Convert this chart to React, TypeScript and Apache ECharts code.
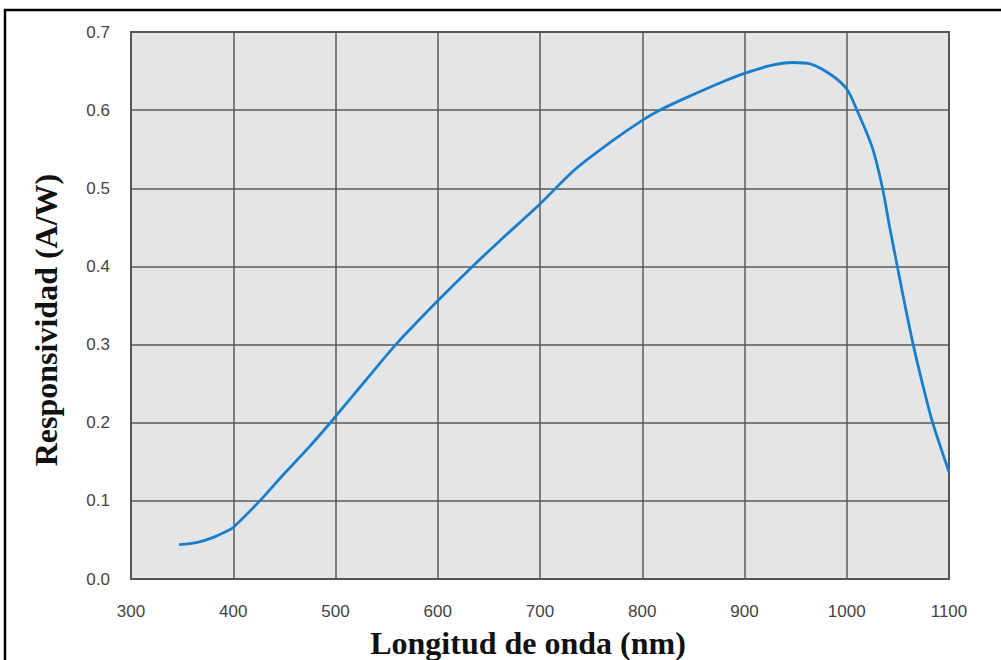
import React, { useEffect, useRef } from "react";
import * as echarts from "echarts";

const wavelengths = [347, 365, 380, 395, 400, 426, 450, 475, 495, 500, 530, 559, 600, 634, 660, 700, 735, 770, 800, 817, 850, 880, 900, 925, 947, 965, 985, 1000, 1010, 1025, 1035, 1042, 1049.5, 1057, 1065, 1075, 1084, 1100];
const responsivity = [0.044, 0.047, 0.053, 0.062, 0.066, 0.1, 0.135, 0.17, 0.2, 0.208, 0.255, 0.3, 0.356, 0.4, 0.432, 0.48, 0.525, 0.56, 0.587, 0.6, 0.62, 0.637, 0.647, 0.657, 0.661, 0.659, 0.645, 0.627, 0.6, 0.552, 0.5, 0.45, 0.4, 0.35, 0.3, 0.245, 0.2, 0.137];

const xTitle = "Longitud de onda (nm)";
const yTitle = "Responsividad (A/W)";

export default function App() {
  const ref = useRef<HTMLDivElement>(null);
  useEffect(() => {
    if (!ref.current) return;
    const chart = echarts.init(ref.current, null, { renderer: "svg" });
    const labelFont = { fontFamily: "Liberation Sans, Arial, sans-serif", fontSize: 17, color: "#444" };
    chart.setOption({
      animation: false,
      backgroundColor: "#fff",
      grid: {
        left: 131,
        right: 52,
        top: 32,
        bottom: 81,
        show: true,
        backgroundColor: "#e4e5e7",
        borderColor: "#4a4a4a",
        borderWidth: 2,
      },
      xAxis: {
        type: "value",
        min: 300,
        max: 1100,
        interval: 100,
        axisLine: { show: false },
        axisTick: { show: false },
        axisLabel: { ...labelFont, margin: 24, formatter: (v: number) => String(v) },
        splitLine: { show: true, lineStyle: { color: "#5a5a5a", width: 1.5 } },
      },
      yAxis: {
        type: "value",
        min: 0,
        max: 0.7,
        interval: 0.1,
        axisLine: { show: false },
        axisTick: { show: false },
        axisLabel: { ...labelFont, margin: 21, formatter: (v: number) => v.toFixed(1) },
        splitLine: { show: true, lineStyle: { color: "#5a5a5a", width: 1.5 } },
      },
      series: [
        {
          type: "line",
          data: wavelengths.map((w, i) => [w, responsivity[i]]),
          smooth: 0.3,
          showSymbol: false,
          lineStyle: { color: "#1a7fca", width: 2.8 },
          z: 5,
        },
      ],
      graphic: [
        {
          type: "rect",
          shape: { x: 5, y: 10, width: 1020, height: 680 },
          style: { fill: "none", stroke: "#000", lineWidth: 2.5 },
          silent: true,
        },
        {
          type: "text",
          x: 528,
          y: 643,
          style: {
            text: xTitle,
            font: "bold 32px 'Liberation Serif', 'Times New Roman', serif",
            fill: "#111",
            textAlign: "center",
            textVerticalAlign: "middle",
          },
        },
        {
          type: "text",
          x: 46,
          y: 320,
          rotation: Math.PI / 2,
          style: {
            text: yTitle,
            font: "bold 32px 'Liberation Serif', 'Times New Roman', serif",
            fill: "#111",
            textAlign: "center",
            textVerticalAlign: "middle",
          },
        },
      ],
    });
    return () => chart.dispose();
  }, []);
  return <div ref={ref} style={{ position: "absolute", left: 0, top: 0, width: 1001, height: 660 }} />;
}
